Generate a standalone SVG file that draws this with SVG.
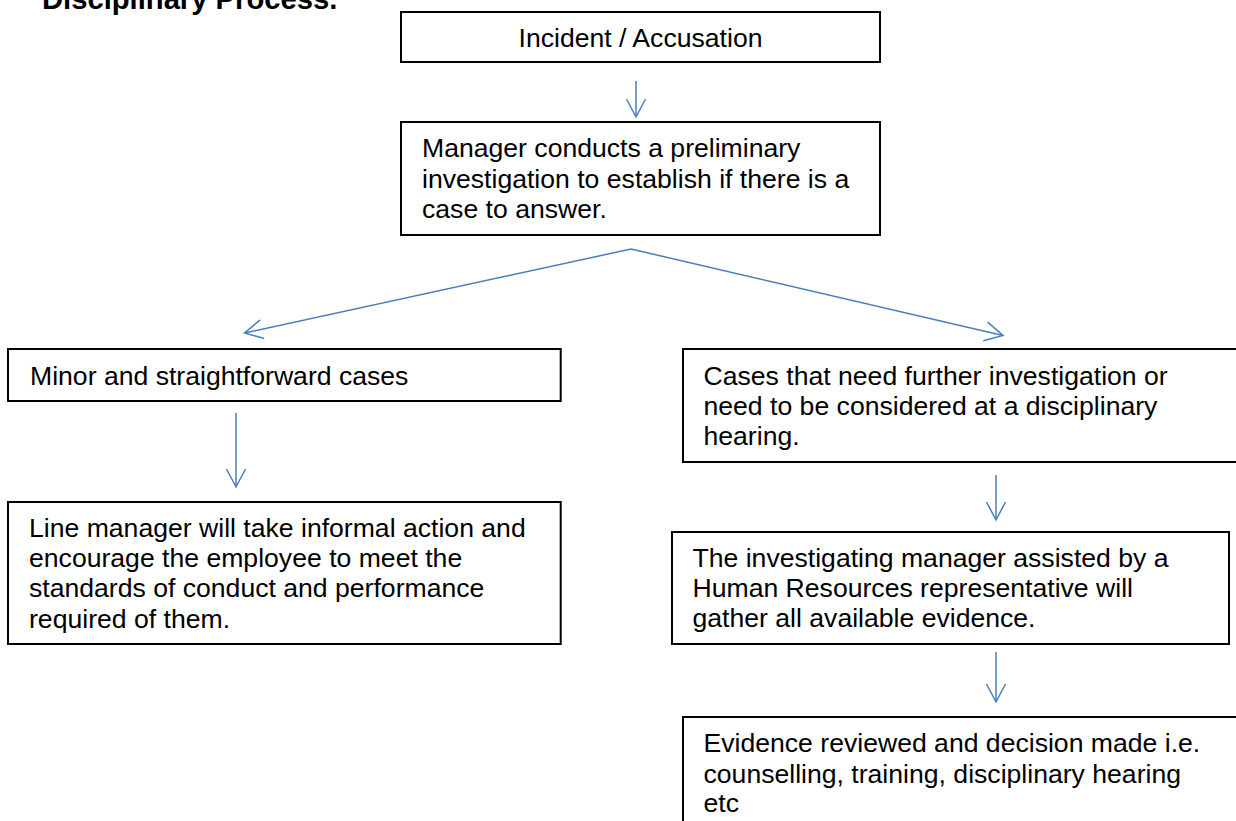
<svg xmlns="http://www.w3.org/2000/svg" width="1236" height="821" viewBox="0 0 1236 821">
<defs>
<style>
.box{fill:#fff;stroke:#000;stroke-width:2}
.t{font-family:"Liberation Sans",Arial,sans-serif;font-size:26.6px;fill:#000}
.title{font-family:"Liberation Sans",Arial,sans-serif;font-size:29.2px;font-weight:bold;fill:#000}
.c{fill:none;stroke:#4A7EBB;stroke-width:1.5}
</style>
<marker id="ah" markerUnits="userSpaceOnUse" markerWidth="24" markerHeight="24" viewBox="-20 -12 24 24" refX="0" refY="0" orient="auto">
<path d="M-18,-9.5 L0,0 L-18,9.5" fill="none" stroke="#4A7EBB" stroke-width="1.5"/>
</marker>
</defs>
<rect width="1236" height="821" fill="#fff"/>
<text class="title" x="42" y="9">Disciplinary Process.</text>
<g id="connectors">
<line class="c" x1="636" y1="81" x2="636" y2="117" marker-end="url(#ah)"/>
<line class="c" x1="631" y1="249" x2="244.6" y2="333" marker-end="url(#ah)"/>
<line class="c" x1="631" y1="249" x2="1003" y2="335.5" marker-end="url(#ah)"/>
<line class="c" x1="236" y1="413" x2="236" y2="487" marker-end="url(#ah)"/>
<line class="c" x1="996" y1="475" x2="996" y2="520" marker-end="url(#ah)"/>
<line class="c" x1="996" y1="652" x2="996" y2="702" marker-end="url(#ah)"/>
</g>
<g id="n1">
<rect class="box" x="401" y="12" width="479" height="50"/>
<text class="t" x="640.5" y="47" text-anchor="middle">Incident / Accusation</text>
</g>
<g id="n2">
<rect class="box" x="401" y="122" width="479" height="113"/>
<text class="t" x="422" y="157">Manager conducts a preliminary</text>
<text class="t" x="422" y="187.5">investigation to establish if there is a</text>
<text class="t" x="422" y="218">case to answer.</text>
</g>
<g id="n3">
<rect class="box" x="8" y="349" width="552.7" height="52"/>
<text class="t" x="30" y="385">Minor and straightforward cases</text>
</g>
<g id="n4">
<rect class="box" x="8" y="502" width="552.7" height="142"/>
<text class="t" x="29" y="537">Line manager will take informal action and</text>
<text class="t" x="29" y="567">encourage the employee to meet the</text>
<text class="t" x="29" y="597">standards of conduct and performance</text>
<text class="t" x="29" y="627.5">required of them.</text>
</g>
<g id="n5">
<rect class="box" x="683" y="349" width="570" height="113"/>
<text class="t" x="703.5" y="385">Cases that need further investigation or</text>
<text class="t" x="703.5" y="415">need to be considered at a disciplinary</text>
<text class="t" x="703.5" y="445">hearing.</text>
</g>
<g id="n6">
<rect class="box" x="672" y="532" width="557" height="112"/>
<text class="t" x="692.5" y="567">The investigating manager assisted by a</text>
<text class="t" x="692.5" y="597">Human Resources representative will</text>
<text class="t" x="692.5" y="627">gather all available evidence.</text>
</g>
<g id="n7">
<rect class="box" x="683" y="717" width="570" height="120"/>
<text class="t" x="703.5" y="752">Evidence reviewed and decision made i.e.</text>
<text class="t" x="703.5" y="782.5">counselling, training, disciplinary hearing</text>
<text class="t" x="703.5" y="812">etc</text>
</g>
</svg>
